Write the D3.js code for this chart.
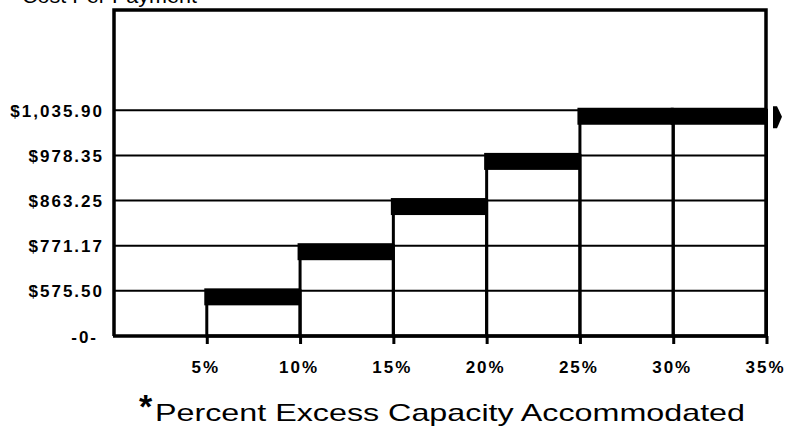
<!DOCTYPE html>
<html>
<head>
<meta charset="utf-8">
<script src="https://cdn.jsdelivr.net/npm/d3@7/dist/d3.min.js"></script>
<style>
  html, body { margin: 0; padding: 0; background: #fff; }
  svg { display: block; }
  .lbl { font-family: "Liberation Sans", Arial, Helvetica, sans-serif; font-weight: bold; font-size: 17px; letter-spacing: 2px; fill: #000; }
</style>
</head>
<body>
<svg id="chart" width="787" height="429"></svg>
<script>
// Step levels of cost per payment by excess capacity accommodated
const costLevels = [0, 575.50, 771.17, 863.25, 978.35, 1035.90];
const costLabels = ["-0-", "$575.50", "$771.17", "$863.25", "$978.35", "$1,035.90"];
const stepStart = [5, 10, 15, 20, 25, 30];
const stepEnd   = [10, 15, 20, 25, 30, 35];
const stepCost  = [575.50, 771.17, 863.25, 978.35, 1035.90, 1035.90];
const pctTicks  = [5, 10, 15, 20, 25, 30, 35];

const svg = d3.select("#chart");
const W = 787, H = 429;
svg.append("rect").attr("width", W).attr("height", H).attr("fill", "#fff");

const base = 336, topY = 10, levelStep = 45.15;
const x = d3.scaleLinear().domain([0, 35]).range([112, 765]);
// evenly spaced levels on the value axis
const y = d3.scaleLinear()
  .domain(costLevels)
  .range(costLevels.map((d, i) => base - i * levelStep));

const left = x(0) + 2, right = x(35) + 1;

// caption running off the top edge
svg.append("text")
  .attr("x", 22).attr("y", 3)
  .attr("textLength", 175).attr("lengthAdjust", "spacingAndGlyphs")
  .style("font-family", "'Liberation Sans', Arial, sans-serif")
  .style("font-size", "20px")
  .text("Cost Per Payment");

// horizontal grid lines
svg.append("g").selectAll("line")
  .data(costLevels.slice(1))
  .join("line")
  .attr("x1", left).attr("x2", right)
  .attr("y1", d => y(d)).attr("y2", d => y(d))
  .attr("stroke", "#000").attr("stroke-width", 2);

// bar outlines
svg.append("g").selectAll("rect")
  .data(stepCost)
  .join("rect")
  .attr("x", (d, i) => x(stepStart[i]) + 1.5)
  .attr("y", d => y(d))
  .attr("width", (d, i) => x(stepEnd[i]) - x(stepStart[i]))
  .attr("height", d => base - y(d))
  .attr("fill", "none")
  .attr("stroke", "#000").attr("stroke-width", 3);

// heavy bands marking each step's level
svg.append("g").selectAll("rect")
  .data(stepCost)
  .join("rect")
  .attr("x", (d, i) => x(stepStart[i]) - 1)
  .attr("y", d => y(d) - 2.5)
  .attr("width", (d, i) => x(stepEnd[i]) - x(stepStart[i]) + 3)
  .attr("height", 17)
  .attr("fill", "#000");

// frame
svg.append("path")
  .attr("d", `M${left},${base} L${left},${topY} L${right},${topY} L${right},${base}`)
  .attr("fill", "none").attr("stroke", "#000").attr("stroke-width", 3.5);
svg.append("line")
  .attr("x1", left - 1).attr("x2", right + 1)
  .attr("y1", base).attr("y2", base)
  .attr("stroke", "#000").attr("stroke-width", 3.5);

// arrow marker at the open end of the top step
const mx = x(35), my = y(1035.90);
svg.append("polygon")
  .attr("points", [[mx + 8, my - 4], [mx + 12, my - 4], [mx + 17, my + 6.5], [mx + 12, my + 18], [mx + 8, my + 18]].map(p => p.join(",")).join(" "))
  .attr("fill", "#000");

// value axis
const yAxis = svg.append("g")
  .attr("transform", `translate(${left},0)`)
  .call(d3.axisLeft(y).tickValues(costLevels).tickFormat((d, i) => costLabels[i]).tickSize(0).tickPadding(10));
yAxis.select(".domain").remove();
yAxis.selectAll("text").attr("class", "lbl").attr("fill", "#000").attr("dy", "0.36em");
yAxis.selectAll("text").filter((d, i) => i === 0).attr("dx", -6);

// percent axis
const xAxis = svg.append("g")
  .attr("transform", `translate(0,${base})`)
  .call(d3.axisBottom(x).tickValues(pctTicks).tickFormat(d => d + "%").tickSize(8).tickPadding(17));
xAxis.select(".domain").remove();
xAxis.selectAll(".tick line").attr("stroke", "#000").attr("stroke-width", 3).attr("transform", "translate(1.5,0)");
xAxis.selectAll("text").attr("class", "lbl").attr("fill", "#000");

// axis title
svg.append("text")
  .attr("x", 139).attr("y", 418)
  .style("font-family", "'Liberation Sans', Arial, sans-serif")
  .style("font-weight", "bold").style("font-size", "34px")
  .text("*");
svg.append("text")
  .attr("x", 155).attr("y", 421)
  .attr("textLength", 590).attr("lengthAdjust", "spacingAndGlyphs")
  .style("font-family", "'Liberation Sans', Arial, sans-serif")
  .style("font-size", "24px")
  .text("Percent Excess Capacity Accommodated");
</script>
</body>
</html>
